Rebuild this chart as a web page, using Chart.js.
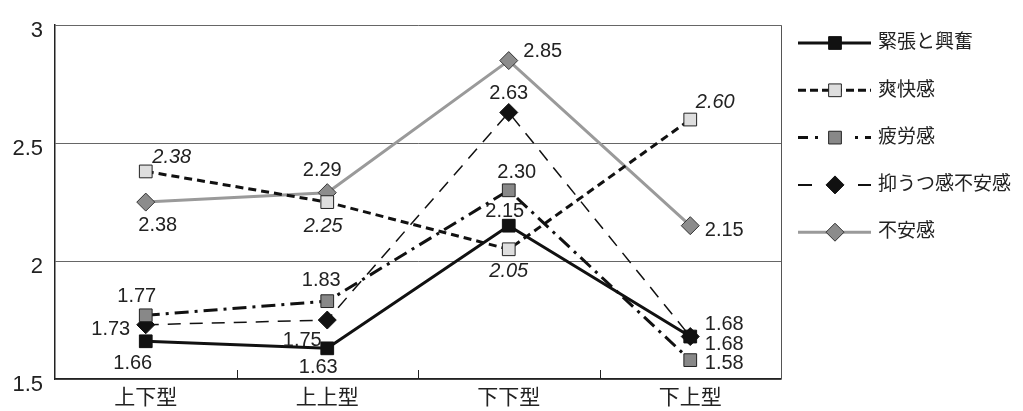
<!DOCTYPE html>
<html>
<head>
<meta charset="utf-8">
<script src="https://cdn.jsdelivr.net/npm/chart.js@4.4.1/dist/chart.umd.min.js"></script>
<style>
  body { margin: 0; background: #fff; }
  #wrap { width: 1023px; height: 411px; }
</style>
</head>
<body>
<div id="wrap"><canvas id="myChart" width="1023" height="411"></canvas></div>
<script>
// categories and values
const categories = ['上下型', '上上型', '下下型', '下上型'];
const kinchou = [1.66, 1.63, 2.15, 1.68];   // 緊張と興奮
const soukai = [2.38, 2.25, 2.05, 2.60];    // 爽快感
const hirou = [1.77, 1.83, 2.30, 1.58];     // 疲労感
const yokuutsu = [1.73, 1.75, 2.63, 1.68];  // 抑うつ感不安感
const fuan = [2.25, 2.29, 2.85, 2.15];      // 不安感
// the printed labels (the first 不安感 label reads 2.38 in the original)
const fuanLabels = ['2.38', '2.29', '2.85', '2.15'];
const yTicks = [1.5, 2, 2.5, 3];

const FONT = "'Liberation Sans', 'Noto Sans CJK JP', sans-serif";
Chart.defaults.font.family = FONT;
Chart.defaults.color = '#222';

const data = {
  labels: categories,
  datasets: [
    {
      label: '不安感',
      data: fuan,
      texts: fuanLabels,
      borderColor: '#9a9a9a',
      borderWidth: 3,
      pointStyle: 'rectRot',
      pointRadius: 9,
      pointBackgroundColor: '#8c8c8c',
      pointBorderColor: '#333',
      pointBorderWidth: 1,
      labelOffsets: [[12, 23], [-5, -22], [34, -9], [34, 5]],
      order: 5
    },
    {
      label: '抑うつ感不安感',
      data: yokuutsu,
      borderColor: '#111',
      borderWidth: 1.5,
      borderDash: [13, 9],
      legendDash: [14, 46],
      pointStyle: 'rectRot',
      pointRadius: 9,
      pointBackgroundColor: '#111',
      pointBorderColor: '#111',
      pointBorderWidth: 1,
      labelOffsets: [[-35, 5], [-25, 20], [0, -19], [34, -12]],
      order: 4
    },
    {
      label: '疲労感',
      data: hirou,
      borderColor: '#111',
      borderWidth: 3,
      borderDash: [14, 6, 3, 6],
      legendDash: [10, 7, 3, 37, 3, 7, 10],
      pointStyle: 'rect',
      pointRadius: 9,
      pointBackgroundColor: '#888',
      pointBorderColor: '#222',
      pointBorderWidth: 1,
      labelOffsets: [[-9, -19], [-6, -21], [8, -18], [34, 3]],
      order: 3
    },
    {
      label: '爽快感',
      data: soukai,
      italic: true,
      borderColor: '#111',
      borderWidth: 3,
      borderDash: [8, 5],
      legendDash: [8, 4],
      pointStyle: 'rect',
      pointRadius: 9,
      pointBackgroundColor: '#dedede',
      pointBorderColor: '#222',
      pointBorderWidth: 1,
      labelOffsets: [[26, -14], [-4, 24], [0, 22], [25, -17]],
      order: 2
    },
    {
      label: '緊張と興奮',
      data: kinchou,
      borderColor: '#111',
      borderWidth: 3,
      pointStyle: 'rect',
      pointRadius: 9,
      pointBackgroundColor: '#111',
      pointBorderColor: '#111',
      pointBorderWidth: 1,
      labelOffsets: [[-13, 22], [-9, 19], [-4, -14], [34, 8]],
      order: 1
    }
  ]
};

// value labels beside the points
const pointLabels = {
  id: 'pointLabels',
  afterDatasetsDraw(chart) {
    const ctx = chart.ctx;
    ctx.save();
    ctx.textAlign = 'center';
    ctx.textBaseline = 'middle';
    ctx.fillStyle = '#222';
    chart.data.datasets.forEach((ds, di) => {
      const meta = chart.getDatasetMeta(di);
      ctx.font = (ds.italic ? 'italic ' : '') + '20px ' + FONT;
      meta.data.forEach((pt, i) => {
        const txt = ds.texts ? ds.texts[i] : ds.data[i].toFixed(2);
        const off = ds.labelOffsets[i];
        ctx.fillText(txt, pt.x + off[0], pt.y + off[1]);
      });
    });
    ctx.restore();
  }
};

// right border, small category ticks inside the plot, and the legend
const frameAndLegend = {
  id: 'frameAndLegend',
  beforeDatasetsDraw(chart) {
    const ctx = chart.ctx;
    const a = chart.chartArea;
    const x = chart.scales.x;
    ctx.save();
    ctx.strokeStyle = '#555';
    ctx.lineWidth = 1;
    ctx.beginPath();
    ctx.moveTo(a.right + 0.5, a.top);
    ctx.lineTo(a.right + 0.5, a.bottom);
    ctx.stroke();
    ctx.strokeStyle = '#222';
    for (let i = 1; i < categories.length; i++) {
      const px = Math.round((x.getPixelForTick(i - 1) + x.getPixelForTick(i)) / 2) + 0.5;
      ctx.beginPath();
      ctx.moveTo(px, a.bottom);
      ctx.lineTo(px, a.bottom - 9);
      ctx.stroke();
    }
    ctx.restore();
  },
  afterDraw(chart) {
    const ctx = chart.ctx;
    const order = ['緊張と興奮', '爽快感', '疲労感', '抑うつ感不安感', '不安感'];
    const x0 = 798, x1 = 871, xm = 835, xt = 878;
    ctx.save();
    ctx.beginPath();
    ctx.rect(x0, 0, x1 - x0, chart.height);
    ctx.restore();
    order.forEach((name, k) => {
      const ds = chart.data.datasets.find(d => d.label === name);
      const y = 43 + k * 47.3;
      ctx.save();
      ctx.beginPath();
      ctx.rect(x0, y - 10, x1 - x0, 20);
      ctx.clip();
      ctx.strokeStyle = ds.borderColor;
      ctx.lineWidth = ds.borderWidth === 1.5 ? 2 : ds.borderWidth;
      ctx.setLineDash(ds.legendDash || []);
      ctx.beginPath();
      ctx.moveTo(x0, y);
      ctx.lineTo(x1 + 10, y);
      ctx.stroke();
      ctx.restore();
      ctx.save();
      ctx.fillStyle = ds.pointBackgroundColor;
      ctx.strokeStyle = ds.pointBorderColor;
      ctx.lineWidth = ds.pointBorderWidth;
      Chart.helpers.drawPoint(ctx, {
        pointStyle: ds.pointStyle,
        radius: ds.pointRadius,
        borderWidth: ds.pointBorderWidth,
        rotation: 0
      }, xm, y);
      ctx.fillStyle = '#222';
      ctx.font = '19px ' + FONT;
      ctx.textAlign = 'left';
      ctx.textBaseline = 'middle';
      ctx.fillText(name, xt, y);
      ctx.restore();
    });
  }
};

const config = {
  type: 'line',
  data: data,
  options: {
    responsive: false,
    animation: false,
    devicePixelRatio: 1,
    layout: { padding: { top: 16, right: 242, left: 0, bottom: 0 } },
    plugins: {
      legend: { display: false },
      tooltip: { enabled: false }
    },
    scales: {
      x: {
        offset: true,
        grid: { display: false, drawTicks: false },
        border: { display: true, color: '#222', width: 1.5 },
        ticks: { font: { size: 21 }, color: '#222', padding: 7, maxRotation: 0 },
        afterFit(s) { s.height = 32; }
      },
      y: {
        min: 1.5,
        max: 3,
        afterBuildTicks(s) { s.ticks = yTicks.map(v => ({ value: v })); },
        grid: { color: '#666', lineWidth: 1, drawTicks: false },
        border: { display: true, color: '#222', width: 1.5 },
        ticks: {
          font: { size: 22 },
          color: '#222',
          padding: 12,
          labelOffset: 6,
          callback: v => String(v)
        },
        afterFit(s) { s.width = 55; }
      }
    }
  },
  plugins: [pointLabels, frameAndLegend]
};

const myChart = new Chart(document.getElementById('myChart'), config);
</script>
</body>
</html>
